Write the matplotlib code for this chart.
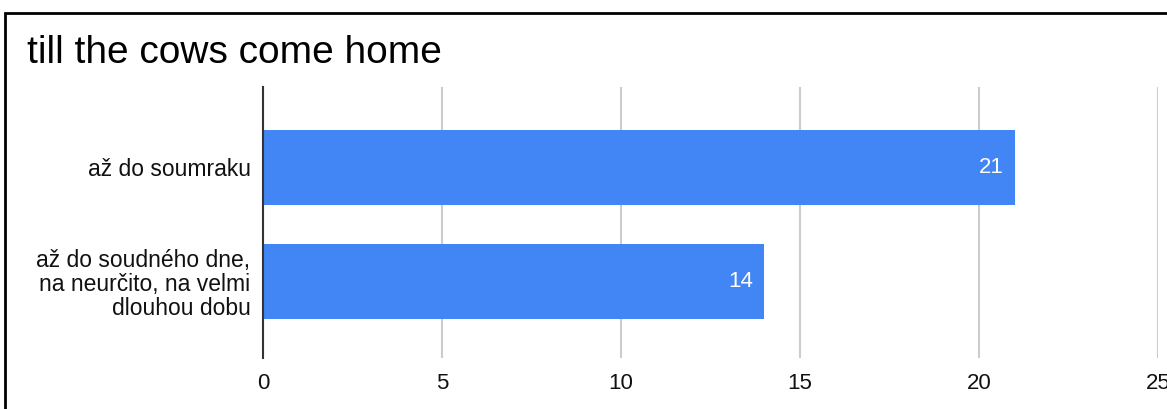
import matplotlib
matplotlib.use("Agg")
import matplotlib.pyplot as plt
from matplotlib.patches import Rectangle

title = "till the cows come home"
categories = ["až do soumraku",
              "až do soudného dne,\nna neurčito, na velmi\ndlouhou dobu"]
values = [21, 14]
x_ticks = [0, 5, 10, 15, 20, 25]

plt.rcParams['font.family'] = ['Liberation Sans', 'DejaVu Sans']

fig = plt.figure(figsize=(11.67, 4.09), dpi=100)
ax = fig.add_axes([263 / 1167, 1 - 358 / 409, 895 / 1167, 271 / 409])

ypos = list(range(len(categories)))
ax.barh(ypos, values, height=0.655, color="#4285F4", zorder=3)
for y, v in zip(ypos, values):
    ax.text(v - 0.3, y, str(v), color="white", ha="right", va="center",
            fontsize=16, zorder=4)

ax.set_xlim(0, 25)
ax.set_ylim(1.668, -0.70)
ax.set_xticks(x_ticks)
ax.set_xticklabels([str(t) for t in x_ticks], fontsize=16)
ax.set_yticks(ypos)
ax.set_yticklabels(categories, fontsize=16.5, linespacing=1.05)
ax.tick_params(axis="both", length=0, colors="#111111")
ax.tick_params(axis="x", pad=11)
ax.tick_params(axis="y", pad=9)

ax.grid(axis="x", color="#cccccc", linewidth=1.5, zorder=0)
for s in ["top", "right", "bottom"]:
    ax.spines[s].set_visible(False)
ax.spines["left"].set_color("#333333")
ax.spines["left"].set_linewidth(1.5)
ax.spines["left"].set_zorder(5)

fig.text(27 / 1167, 1 - 53 / 409, title, fontsize=28, va="center", ha="left")

# outer frame (cut off on the right and bottom)
fig.patches.append(Rectangle((5 / 1167, -0.2), 1.2, 1 - 13 / 409 + 0.2,
                             transform=fig.transFigure, fill=False,
                             edgecolor="black", linewidth=2))

fig.savefig("out.png", dpi=100)
